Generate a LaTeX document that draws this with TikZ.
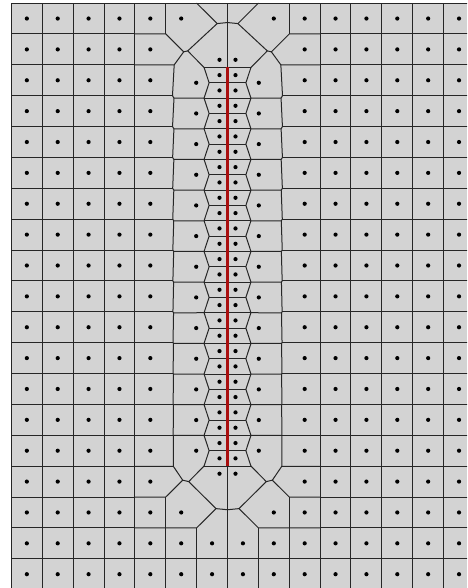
\documentclass[tikz,border=0pt]{standalone}
\usepackage{tikz}
\usetikzlibrary{calc}

\definecolor{cellgray}{RGB}{211,211,211}
\definecolor{crackred}{RGB}{170,15,15}
\tikzstyle{edge} = [draw=black!85, line width=1pt]
\tikzstyle{crackline} = [draw=crackred, line width=2.2pt]
\tikzstyle{site} = [circle, fill=black, inner sep=0pt, minimum size=4.2pt]

\def\cellh{30.87}   % cell size of the regular grid
\def\xorg{11.41}
\def\yorg{3.1}
\def\xcrack{227.5}
\def\yfine{59.8}    % first pair of fine sites
\def\fstep{15.33}
\def\ufine{8}
\def\umid{31.3}

% Voronoi vertex = circumcentre of three sites
\newcommand{\vvertex}[4]{%
  \coordinate (vaux1) at ($(#2.center)!0.5!(#3.center)$);
  \coordinate (vaux2) at ($(vaux1)!1!90:(#3.center)$);
  \coordinate (vaux3) at ($(#2.center)!0.5!(#4.center)$);
  \coordinate (vaux4) at ($(vaux3)!1!90:(#4.center)$);
  \coordinate (#1) at (intersection of vaux1--vaux2 and vaux3--vaux4);
}

\begin{document}
\begin{tikzpicture}[x=1pt, y=-1pt]
  \useasboundingbox (0,0) rectangle (467,588);
  \clip ({\xorg-1},{\yorg-1}) rectangle (467,588);
  \fill[cellgray] (\xorg,\yorg) rectangle (467,588);

  % Regular grid left and right of the band
  \foreach \k in {0,...,4}
    \draw[edge] ({\xorg+\k*\cellh},\yorg) -- ++(0,600);
  \foreach \k in {10,...,15}
    \draw[edge] ({\xorg+\k*\cellh},\yorg) -- ++(0,600);
  \foreach \i in {1,...,17}{
    \draw[edge] (\xorg,{\yorg+\i*\cellh}) -- ++({4*\cellh},0);
    \draw[edge] ({\xorg+10*\cellh},{\yorg+\i*\cellh}) -- ++({5*\cellh},0);
  }
  \draw[edge] (\xorg,\yorg) -- ++({15*\cellh},0);
  \draw[edge] (\xorg,{\yorg+18*\cellh}) -- ++({15*\cellh},0);
  \draw[edge] (\xcrack,\yorg) -- ++(0,600);
  \coordinate (crk) at (\xcrack,0);

  % Grid sites
  \foreach \k in {0,...,14}
    \foreach \i in {0,...,18}{
      \pgfmathtruncatemacro{\gone}{((\i>0)&&(\i<16)&&(\k>4)&&(\k<9))||(((\i==0)||(\i==16))&&((\k==6)||(\k==7)))}
      \ifnum\gone=0
        \node[site] (g-\k-\i) at ({\xorg+(\k+0.5)*\cellh},{\yorg+(\i+0.5)*\cellh}) {};
      \fi
    }

  % Both halves of the refined band
  \foreach \s/\sd in {-1/l,1/r}{
    % sites
    \foreach \i in {0,...,16}
      \coordinate (a\i) at ({\xcrack+(\s)*2.5*\cellh},{\yorg+(\i+0.5)*\cellh});
    \coordinate (b0) at ({\xcrack+(\s)*1.5*\cellh},{\yorg+0.5*\cellh});
    \coordinate (b16) at ({\xcrack+(\s)*1.5*\cellh},{\yorg+16.5*\cellh});
    \coordinate (ct) at ({\xcrack+(\s)*0.5*\cellh},{\yorg-0.5*\cellh});
    \coordinate (ctx) at ({\xcrack-(\s)*0.5*\cellh},{\yorg-0.5*\cellh});
    \coordinate (cb) at ({\xcrack+(\s)*0.5*\cellh},{\yorg+17.5*\cellh});
    \coordinate (cbx) at ({\xcrack-(\s)*0.5*\cellh},{\yorg+17.5*\cellh});
    \coordinate (x4) at ({\xcrack+(\s)*3*\cellh},0);
    \foreach \m in {0,...,12}
      \node[site] (i\sd\m) at ({\xcrack+(\s)*\umid},{\yfine+(1.5+2*\m)*\fstep}) {};
    \foreach \j in {0,...,27}
      \node[site] (f\sd\j) at ({\xcrack+(\s)*\ufine},{\yfine+\j*\fstep}) {};

    % vertices at the top
    \vvertex{vt2}{a1}{b0}{i\sd0}
    \vvertex{vt3}{b0}{f\sd0}{i\sd0}
    \vvertex{vt4}{b0}{ct}{f\sd0}
    \vvertex{vt5}{ct}{ctx}{f\sd0}
    \vvertex{vt7}{a1}{a2}{i\sd0}
    \coordinate (vt1) at ({\xcrack+(\s)*2*\cellh},{\yorg+\cellh});
    \coordinate (vt6) at ({\xcrack+(\s)*\cellh},\yorg);

    % vertices along the band
    \foreach \m in {1,...,12}{
      \pgfmathtruncatemacro{\mprev}{\m-1}
      \pgfmathtruncatemacro{\mone}{\m+1}
      \pgfmathtruncatemacro{\mtwo}{\m+2}
      \pgfmathtruncatemacro{\mfine}{2*\m}
      \vvertex{vp\m}{a\mone}{a\mtwo}{i\sd\mprev}
      \vvertex{vq\m}{i\sd\mprev}{i\sd\m}{a\mtwo}
      \vvertex{vo\m}{i\sd\mprev}{i\sd\m}{f\sd\mfine}
    }
    \foreach \m in {0,...,12}{
      \pgfmathtruncatemacro{\jone}{2*\m+1}
      \pgfmathtruncatemacro{\jtwo}{2*\m+2}
      \vvertex{vn\m}{f\sd\jone}{f\sd\jtwo}{i\sd\m}
    }
    \vvertex{vo0}{f\sd0}{f\sd1}{i\sd0}
    \vvertex{vo13}{f\sd26}{f\sd27}{i\sd12}

    % vertices at the bottom
    \vvertex{vb1}{a14}{a15}{i\sd12}
    \vvertex{vb2}{a15}{b16}{i\sd12}
    \vvertex{vb3}{b16}{f\sd27}{i\sd12}
    \vvertex{vb4}{b16}{cb}{f\sd27}
    \vvertex{vb5}{cb}{cbx}{f\sd27}
    \coordinate (vb6) at ({\xcrack+(\s)*\cellh},{\yorg+17*\cellh});
    \coordinate (vb7) at ({\xcrack+(\s)*2*\cellh},{\yorg+16*\cellh});

    % edges at the top
    \draw[edge] (vt1) -- ++(0,-\cellh);
    \draw[edge] (vt1 -| x4) -- (vt1) -- (vt2) -- (vt3) -- (vt4) -- (vt5);
    \draw[edge] (vt6) -- (vt4);
    \draw[edge] (vt7 -| x4) -- (vt7) -- (vt2);
    \draw[edge] (vt3) -- (vo0);
    % edges along the band
    \draw[edge] (vt7) \foreach \m in {1,...,12}{ -- (vp\m) -- (vq\m)} -- (vb1);
    \foreach \m in {1,...,12}{
      \draw[edge] (vp\m -| x4) -- (vp\m);
      \draw[edge] (vq\m) -- (vo\m);
    }
    \foreach \m in {0,...,12}{
      \pgfmathtruncatemacro{\mnext}{\m+1}
      \draw[edge] (vo\m) -- (vn\m) -- (vo\mnext);
      \draw[edge] (vn\m) -- (vn\m -| crk);
    }
    \foreach \m in {0,...,13}
      \draw[edge] (vo\m) -- (vo\m -| crk);
    % edges at the bottom
    \draw[edge] (vb1 -| x4) -- (vb1) -- (vb2) -- (vb3) -- (vb4) -- (vb5);
    \draw[edge] (vb3) -- (vo13);
    \draw[edge] (vb2) -- (vb7) -- (vb7 -| x4);
    \draw[edge] (vb7) -- ++(0,100);
    \draw[edge] (vb4) -- (vb6) -- (vb6 -| x4);
    \draw[edge] (vb6) -- ++(0,100);
  }

  % Crack
  \draw[crackline] (\xcrack,{\yfine+0.5*\fstep}) -- (\xcrack,{\yfine+26.5*\fstep});
\end{tikzpicture}
\end{document}
